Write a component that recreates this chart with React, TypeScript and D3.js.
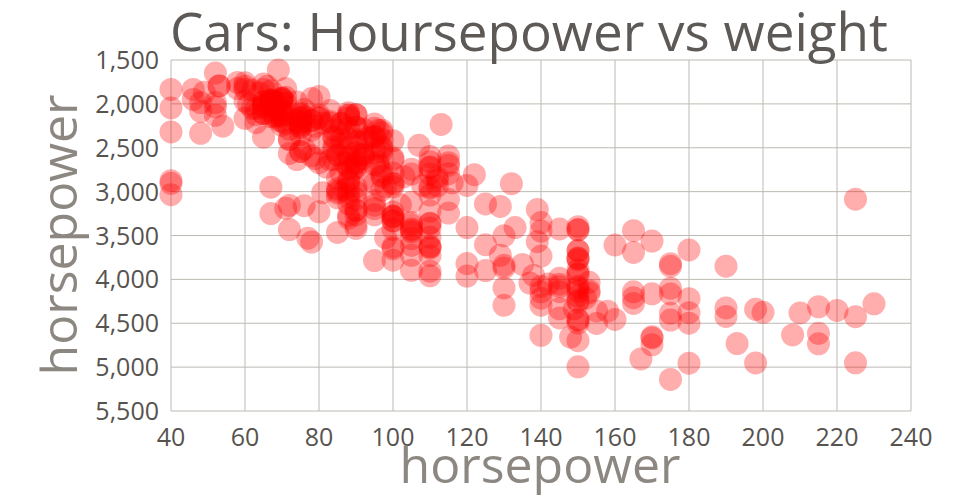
import React, { useRef, useEffect } from 'react';
import * as d3 from 'd3';

// [horsepower, weight] per car; null horsepower = missing value (drawn on the left edge)
const hpWeight: [number | null, number][] = [
  [130, 3504], [165, 3693], [150, 3436], [150, 3433], [140, 3449], [198, 4341], [220, 4354], [215, 4312],
  [225, 4425], [190, 3850], [170, 3563], [160, 3609], [150, 3761], [225, 3086], [115, 3090], [165, 4142],
  [153, 4034], [175, 4166], [175, 3850], [140, 3353], [95, 2372], [97, 2833], [97, 2774], [85, 2587],
  [88, 2130], [46, 1835], [87, 2672], [90, 2430], [95, 2375], [113, 2234], [90, 2648], [215, 4615],
  [200, 4376], [210, 4382], [193, 4732], [88, 2130], [90, 2264], [95, 2228], [null, 2046], [100, 2634],
  [105, 3439], [100, 3329], [88, 3302], [100, 3288], [165, 4209], [175, 4464], [153, 4154], [150, 4096],
  [180, 4955], [170, 4746], [175, 5140], [110, 2962], [72, 2408], [100, 3282], [88, 3139], [86, 2220],
  [90, 2123], [70, 2074], [76, 2065], [65, 1773], [69, 1613], [60, 1834], [70, 1955], [95, 2278],
  [80, 2126], [54, 2254], [90, 2408], [86, 2226], [165, 4274], [175, 4385], [150, 4135], [153, 4129],
  [150, 3672], [208, 4633], [155, 4502], [160, 4456], [190, 4422], [97, 2330], [150, 3892], [130, 4098],
  [140, 4294], [150, 4077], [112, 2933], [76, 2511], [87, 2979], [69, 2189], [86, 2395], [92, 2288],
  [97, 2506], [80, 2164], [88, 2100], [175, 4100], [150, 3672], [145, 3988], [137, 4042], [150, 3777],
  [198, 4952], [150, 4464], [158, 4363], [150, 4237], [215, 4735], [225, 4951], [175, 3821], [105, 3121],
  [100, 3278], [100, 2945], [88, 3021], [95, 2904], [46, 1950], [150, 4997], [167, 4906], [170, 4654],
  [180, 4499], [100, 2789], [88, 2279], [72, 2401], [94, 2379], [90, 2124], [85, 2310], [107, 2472],
  [90, 2265], [145, 4082], [230, 4278], [49, 1867], [75, 2158], [91, 2582], [112, 2868], [150, 3399],
  [110, 2660], [122, 2807], [180, 3664], [95, 3102], [null, 2875], [100, 2901], [100, 3336], [67, 1950],
  [80, 2451], [65, 1836], [75, 2542], [100, 3781], [110, 3632], [105, 3613], [140, 4141], [150, 4699],
  [150, 4457], [140, 4638], [150, 4257], [83, 2219], [67, 1963], [78, 2300], [52, 1649], [61, 2003],
  [75, 2125], [75, 2108], [75, 2246], [97, 2489], [93, 2391], [67, 2000], [95, 3264], [105, 3459],
  [72, 3432], [72, 3158], [170, 4668], [145, 4440], [150, 4498], [148, 4657], [110, 3907], [105, 3897],
  [110, 3730], [95, 3785], [110, 3039], [110, 3221], [129, 3169], [75, 2171], [83, 2639], [100, 2914],
  [78, 2592], [96, 2702], [71, 2223], [97, 2545], [97, 2984], [70, 1937], [90, 3211], [95, 2694],
  [88, 2957], [98, 2945], [115, 2671], [53, 1795], [86, 2464], [81, 2220], [92, 2572], [79, 2255],
  [83, 2202], [140, 4215], [150, 4190], [120, 3962], [152, 4215], [100, 3233], [105, 3353], [81, 3012],
  [90, 3085], [52, 2035], [60, 2164], [70, 1937], [53, 1795], [100, 3651], [78, 3574], [110, 3645],
  [95, 3193], [71, 1825], [70, 1990], [75, 2155], [72, 2565], [102, 3150], [150, 3940], [88, 3270],
  [108, 2930], [120, 3820], [180, 4380], [145, 4055], [130, 3870], [150, 3755], [68, 2045], [80, 2155],
  [58, 1825], [96, 2300], [70, 1945], [145, 4335], [110, 3960], [145, 4140], [130, 4295], [110, 3520],
  [105, 3425], [100, 3630], [98, 3525], [180, 4220], [170, 4165], [190, 4325], [149, 4335], [78, 1940],
  [88, 2740], [75, 2265], [89, 2755], [63, 2051], [83, 2075], [67, 1985], [78, 2190], [97, 2815],
  [110, 2600], [110, 2720], [48, 1985], [66, 1800], [52, 1985], [70, 2070], [60, 1800], [110, 3365],
  [140, 3735], [139, 3570], [105, 3535], [95, 3155], [85, 2965], [88, 2720], [100, 3430], [90, 3210],
  [105, 3380], [85, 3070], [110, 3620], [120, 3410], [145, 3425], [165, 3445], [139, 3205], [140, 4080],
  [68, 2155], [95, 2560], [97, 2300], [75, 2230], [95, 2515], [105, 2745], [85, 2855], [97, 2405],
  [103, 2830], [125, 3140], [115, 2795], [133, 3410], [71, 1990], [68, 2135], [115, 3245], [85, 2990],
  [88, 2890], [90, 3265], [110, 3360], [130, 3840], [129, 3725], [138, 3955], [135, 3830], [155, 4360],
  [142, 4054], [125, 3605], [150, 3940], [71, 1925], [65, 1975], [80, 1915], [80, 2670], [77, 3530],
  [125, 3900], [71, 3190], [90, 3420], [70, 2200], [70, 2150], [65, 2020], [69, 2130], [90, 2670],
  [115, 2595], [115, 2700], [90, 2556], [76, 2144], [60, 1968], [70, 2120], [65, 2019], [90, 2678],
  [88, 2870], [90, 3003], [90, 3381], [78, 2188], [90, 2711], [75, 2542], [92, 2434], [75, 2265],
  [65, 2110], [105, 2800], [65, 2110], [48, 2085], [48, 2335], [67, 2950], [67, 3250], [67, 1850],
  [null, 1835], [67, 2145], [62, 1845], [132, 2910], [100, 2420], [88, 2500], [null, 2905], [72, 2290],
  [84, 2490], [84, 2635], [92, 2620], [110, 2725], [84, 2385], [58, 1755], [64, 1875], [60, 1760],
  [67, 2065], [65, 1975], [62, 2050], [68, 1985], [63, 2215], [65, 2045], [65, 2380], [74, 2190],
  [null, 2320], [75, 2210], [75, 2350], [100, 2615], [74, 2635], [80, 3230], [110, 2800], [76, 3160],
  [116, 2900], [120, 2930], [110, 3415], [105, 3725], [88, 3060], [85, 3465], [88, 2605], [88, 2640],
  [88, 2395], [85, 2575], [84, 2525], [90, 2735], [92, 2865], [null, 3035], [74, 1980], [68, 2025],
  [68, 1970], [63, 2125], [70, 2125], [88, 2160], [75, 2205], [70, 2245], [67, 1965], [67, 1965],
  [67, 1995], [110, 2945], [85, 3015], [92, 2585], [112, 2835], [96, 2665], [84, 2370], [90, 2950],
  [86, 2790], [52, 2130], [84, 2295], [79, 2625], [82, 2720],
];

const xTicks = [40, 60, 80, 100, 120, 140, 160, 180, 200, 220, 240];
const yTicks = [1500, 2000, 2500, 3000, 3500, 4000, 4500, 5000, 5500];

const chartTitle = 'Cars: Hoursepower vs weight';
const xTitle = 'horsepower';
const yTitle = 'horsepower';

const W = 960;
const H = 500;
const margin = { top: 60, right: 49, bottom: 89, left: 171 };
const FONT = '"Open Sans", sans-serif';

export default function App() {
  const svgRef = useRef<SVGSVGElement>(null);

  useEffect(() => {
    if (!svgRef.current) return;
    const svg = d3.select(svgRef.current);
    svg.selectAll('*').remove();

    const innerW = W - margin.left - margin.right;
    const innerH = H - margin.top - margin.bottom;

    const x = d3.scaleLinear().domain([40, 240]).range([0, innerW]);
    const y = d3.scaleLinear().domain([1500, 5500]).range([0, innerH]);

    const g = svg.append('g').attr('transform', `translate(${margin.left},${margin.top})`);

    // grid
    g.append('g')
      .selectAll('line')
      .data(xTicks)
      .join('line')
      .attr('x1', (d) => x(d))
      .attr('x2', (d) => x(d))
      .attr('y1', 0)
      .attr('y2', innerH)
      .attr('stroke', '#bdbab3')
      .attr('stroke-width', 1);

    g.append('g')
      .selectAll('line')
      .data(yTicks)
      .join('line')
      .attr('x1', 0)
      .attr('x2', innerW)
      .attr('y1', (d) => y(d))
      .attr('y2', (d) => y(d))
      .attr('stroke', '#bdbab3')
      .attr('stroke-width', 1);

    // tick labels
    const fmt = d3.format(',');
    g.append('g')
      .selectAll('text')
      .data(yTicks)
      .join('text')
      .attr('x', -12)
      .attr('y', (d) => y(d))
      .attr('dy', '0.36em')
      .attr('text-anchor', 'end')
      .attr('fill', '#57534f')
      .style('font-family', FONT)
      .style('font-size', '25px')
      .text((d) => fmt(d));

    g.append('g')
      .selectAll('text')
      .data(xTicks)
      .join('text')
      .attr('x', (d) => x(d))
      .attr('y', innerH + 35)
      .attr('text-anchor', 'middle')
      .attr('fill', '#57534f')
      .style('font-family', FONT)
      .style('font-size', '25px')
      .text((d) => d);

    // points
    g.append('g')
      .selectAll('circle')
      .data(hpWeight)
      .join('circle')
      .attr('cx', (d) => x(d[0] ?? 40))
      .attr('cy', (d) => y(d[1]))
      .attr('r', 11.5)
      .attr('fill', '#ff0000')
      .attr('fill-opacity', 0.32);

    // titles
    svg.append('text')
      .attr('x', 529)
      .attr('y', 51)
      .attr('text-anchor', 'middle')
      .attr('fill', '#5c5956')
      .style('font-family', FONT)
      .style('font-size', '53px')
      .text(chartTitle);

    svg.append('text')
      .attr('x', 540)
      .attr('y', 483)
      .attr('text-anchor', 'middle')
      .attr('fill', '#8c8781')
      .style('font-family', FONT)
      .style('font-size', '50px')
      .text(xTitle);

    svg.append('text')
      .attr('transform', `translate(77,235) rotate(-90)`)
      .attr('text-anchor', 'middle')
      .attr('fill', '#8c8781')
      .style('font-family', FONT)
      .style('font-size', '50px')
      .text(yTitle);
  }, []);

  return (
    <svg
      ref={svgRef}
      width={W}
      height={H}
      style={{ position: 'fixed', left: 0, top: 0, background: '#fff' }}
    />
  );
}
